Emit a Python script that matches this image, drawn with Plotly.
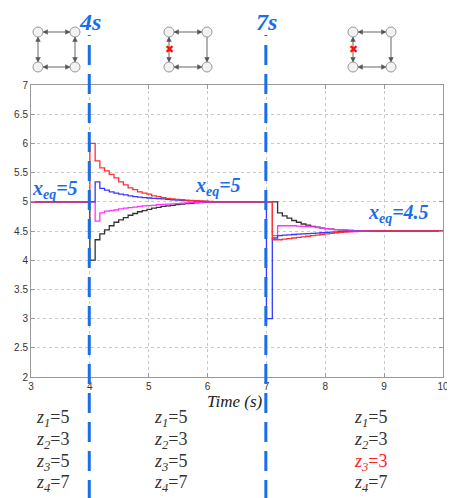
import plotly.graph_objects as go

# page has an 8px body margin; lay out in reference-pixel coordinates
OFF = 8
W, H = 455 - OFF, 498 - OFF

# ---- data ----
t_pre = [3.0]
t_phase1 = [4.0, 4.09, 4.17, 4.25, 4.33, 4.41, 4.49, 4.57, 4.65, 4.73, 4.81, 4.89, 4.97,
            5.05, 5.13, 5.21, 5.29, 5.37, 5.45, 5.53, 5.61, 5.69, 5.77, 5.85, 5.93, 6.01]
t_hold = [6.09]
t_phase2 = [7.0, 7.1, 7.19, 7.27, 7.35, 7.43, 7.51, 7.59, 7.67, 7.75, 7.83, 7.91, 7.99,
            8.07, 8.15, 8.23, 8.31, 8.39, 8.47, 8.55, 8.63, 8.71, 8.79]
t_end = [10.0]

red_1 = [6.0, 5.70, 5.58, 5.53, 5.47, 5.41, 5.34, 5.29, 5.24, 5.21, 5.17, 5.15, 5.13,
         5.10, 5.09, 5.07, 5.06, 5.05, 5.04, 5.035, 5.03, 5.025, 5.02, 5.015, 5.01, 5.005]
blue_1 = [5.0, 5.34, 5.23, 5.20, 5.17, 5.15, 5.13, 5.12, 5.10, 5.09, 5.08, 5.07, 5.065,
          5.06, 5.055, 5.05, 5.04, 5.035, 5.03, 5.025, 5.02, 5.015, 5.01, 5.008, 5.005, 5.003]
magenta_1 = [5.0, 4.67, 4.81, 4.84, 4.85, 4.86, 4.88, 4.89, 4.90, 4.91, 4.92, 4.93, 4.935,
             4.94, 4.95, 4.955, 4.96, 4.965, 4.97, 4.975, 4.98, 4.985, 4.99, 4.992, 4.995, 4.997]
black_1 = [4.0, 4.35, 4.45, 4.52, 4.59, 4.65, 4.69, 4.73, 4.77, 4.80, 4.83, 4.85, 4.87,
           4.89, 4.905, 4.92, 4.93, 4.94, 4.95, 4.96, 4.97, 4.975, 4.98, 4.985, 4.99, 4.995]

red_2 = [5.0, 4.35, 4.35, 4.36, 4.37, 4.38, 4.39, 4.40, 4.41, 4.42, 4.43, 4.44, 4.45,
         4.46, 4.47, 4.475, 4.48, 4.485, 4.49, 4.493, 4.496, 4.498, 4.5]
blue_2 = [3.0, 4.38, 4.42, 4.43, 4.435, 4.44, 4.445, 4.45, 4.455, 4.46, 4.465, 4.47, 4.475,
          4.48, 4.485, 4.49, 4.492, 4.494, 4.496, 4.498, 4.499, 4.5, 4.5]
magenta_2 = [5.0, 4.42, 4.59, 4.59, 4.59, 4.59, 4.585, 4.58, 4.575, 4.57, 4.56, 4.55, 4.54,
             4.53, 4.525, 4.52, 4.515, 4.51, 4.507, 4.505, 4.503, 4.501, 4.5]
black_2 = [5.0, 5.0, 4.81, 4.76, 4.72, 4.68, 4.65, 4.62, 4.60, 4.58, 4.565, 4.55, 4.54,
           4.53, 4.525, 4.52, 4.515, 4.51, 4.507, 4.505, 4.503, 4.502, 4.5]

x_start_val = [5.0]
x_mid_val = [5.0]
x_final_val = [4.5]

event_times = [4, 7]
event_labels = ["4s", "7s"]
eq_labels = ["x<sub>eq</sub>=5", "x<sub>eq</sub>=5", "x<sub>eq</sub>=4.5"]
z_columns = [
    ["5", "3", "5", "7"],
    ["5", "3", "5", "7"],
    ["5", "3", "3", "7"],
]

x_ticks = [3, 4, 5, 6, 7, 8, 9, 10]
y_ticks = [2, 2.5, 3, 3.5, 4, 4.5, 5, 5.5, 6, 6.5, 7]

# ---- layout helpers (reference pixel -> paper) ----
def px(x):
    return (x - OFF) / W

def py(y):
    return 1 - (y - OFF) / H

L, R, T, B = 31, 443, 85, 377

fig = go.Figure()

t_all = t_pre + t_phase1 + t_hold + t_phase2 + t_end
series = [
    ("black", "#333333", black_1, black_2),
    ("magenta", "#ff33ff", magenta_1, magenta_2),
    ("blue", "#3838ff", blue_1, blue_2),
    ("red", "#ff3030", red_1, red_2),
]
for name, col, v1, v2 in series:
    yv = x_start_val + v1 + x_mid_val + v2 + x_final_val
    fig.add_trace(go.Scatter(x=t_all, y=yv, mode="lines", line=dict(color=col, width=1.3, shape="hv"),
                             name=name, showlegend=False, hoverinfo="skip"))

blue_c = "#1a6ee8"
shapes = []
for t in event_times:
    shapes.append(dict(type="line", xref="x", yref="paper", x0=t - 0.01, x1=t - 0.01,
                       y0=py(H + OFF + 2), y1=py(35), line=dict(color=blue_c, width=3, dash="20px,9px")))

annotations = []
for t, lab in zip(event_times, event_labels):
    annotations.append(dict(x=t, xref="x", y=1.0, yref="paper", text=f"<b><i>{lab}</i></b>",
                            showarrow=False, font=dict(family="Liberation Serif", size=24, color=blue_c),
                            xanchor="center", yanchor="top", borderpad=0))

eq_pos = [(55, 189), (218, 187), (398, 214)]
for (ex, ey), lab in zip(eq_pos, eq_labels):
    annotations.append(dict(x=px(ex), y=py(ey), xref="paper", yref="paper",
                            text=f"<b><i>{lab}</i></b>", showarrow=False,
                            font=dict(family="Liberation Serif", size=20, color=blue_c),
                            xanchor="center", yanchor="middle"))

# Time label
annotations.append(dict(x=px(235), y=py(401), xref="paper", yref="paper", text="<i>Time (s)</i>",
                        showarrow=False, font=dict(family="Liberation Serif", size=17, color="#222"),
                        xanchor="center", yanchor="middle"))

# z labels
col_x = [34, 152, 352]
row_y = [418, 440, 462, 483]
for ci, vals in enumerate(z_columns):
    for ri, v in enumerate(vals):
        color = "#333333"
        if ci == 2 and ri == 2:
            color = "#ff2020"
        annotations.append(dict(x=px(col_x[ci]), y=py(row_y[ri]), xref="paper", yref="paper",
                                text=f"<i>z<sub>{ri+1}</sub></i>={v}", showarrow=False,
                                font=dict(family="Liberation Serif", size=18, color=color),
                                xanchor="left", yanchor="middle"))

# Network diagrams (decorative)
diagrams = [(38, 75, 32, 67, False), (169, 207, 32, 67, True), (353, 391, 32, 67, True)]
r = 5
arrow_col = "#555555"


def head(xh, yh, dx, dy):
    # triangle arrowhead at (xh, yh) pointing along (dx, dy) (unit, pixel space)
    ln, hw = 4.5, 2.3
    bx, by = xh - dx * ln, yh - dy * ln
    p1 = (bx - dy * hw, by + dx * hw)
    p2 = (bx + dy * hw, by - dx * hw)
    return dict(type="path", xref="paper", yref="paper",
                path=f"M{px(xh)},{py(yh)} L{px(p1[0])},{py(p1[1])} L{px(p2[0])},{py(p2[1])} Z",
                fillcolor=arrow_col, line=dict(color=arrow_col, width=0.5))


for (xl, xr, yt, yb, broken) in diagrams:
    nodes = [(xl, yt), (xr, yt), (xl, yb), (xr, yb)]
    edges = [((xl + r, yt), (xr - r, yt), True),
             ((xl + r, yb), (xr - r, yb), True),
             ((xr, yt + r), (xr, yb - r), not broken),
             ((xl, yt + r), (xl, yb - r), True)]
    for (x0, y0), (x1, y1), both in edges:
        shapes.append(dict(type="line", xref="paper", yref="paper", x0=px(x0), y0=py(y0),
                           x1=px(x1), y1=py(y1), line=dict(color=arrow_col, width=0.9)))
        lx, ly = x1 - x0, y1 - y0
        n = (lx * lx + ly * ly) ** 0.5
        ux, uy = lx / n, ly / n
        shapes.append(head(x1, y1, ux, uy))
        if both:
            shapes.append(head(x0, y0, -ux, -uy))
    for (nx, ny) in nodes:
        shapes.append(dict(type="circle", xref="paper", yref="paper",
                           x0=px(nx - r), x1=px(nx + r), y0=py(ny + r), y1=py(ny - r),
                           line=dict(color="#999999", width=1), fillcolor="#f2f2f2"))
    if broken:
        annotations.append(dict(x=px(xl), y=py((yt + yb) / 2), xref="paper", yref="paper",
                                text="<b>✖</b>", showarrow=False,
                                font=dict(family="DejaVu Sans", size=11, color="#ff1010"),
                                xanchor="center", yanchor="middle"))

fig.update_layout(
    width=W, height=H, margin=dict(l=0, r=0, t=0, b=0),
    paper_bgcolor="white", plot_bgcolor="white",
    shapes=shapes, annotations=annotations, showlegend=False,
    xaxis=dict(domain=[px(L), px(R)], range=[3, 10], tickvals=x_ticks, ticktext=[str(v) for v in x_ticks],
               showgrid=True, gridcolor="#c8c8c8", griddash="dot", gridwidth=1,
               showline=True, linecolor="#999999", linewidth=1, mirror="ticks",
               ticks="inside", ticklen=4, tickcolor="#999999", zeroline=False, automargin=False,
               tickfont=dict(family="Liberation Sans", size=10, color="#333")),
    yaxis=dict(domain=[py(B), py(T)], range=[2, 7], tickvals=y_ticks,
               ticktext=[("%g" % v) for v in y_ticks],
               showgrid=True, gridcolor="#c8c8c8", griddash="dot", gridwidth=1,
               showline=True, linecolor="#999999", linewidth=1, mirror="ticks",
               ticks="inside", ticklen=4, tickcolor="#999999", zeroline=False, automargin=False,
               tickfont=dict(family="Liberation Sans", size=10, color="#333")),
)

fig.write_html("out.html")
